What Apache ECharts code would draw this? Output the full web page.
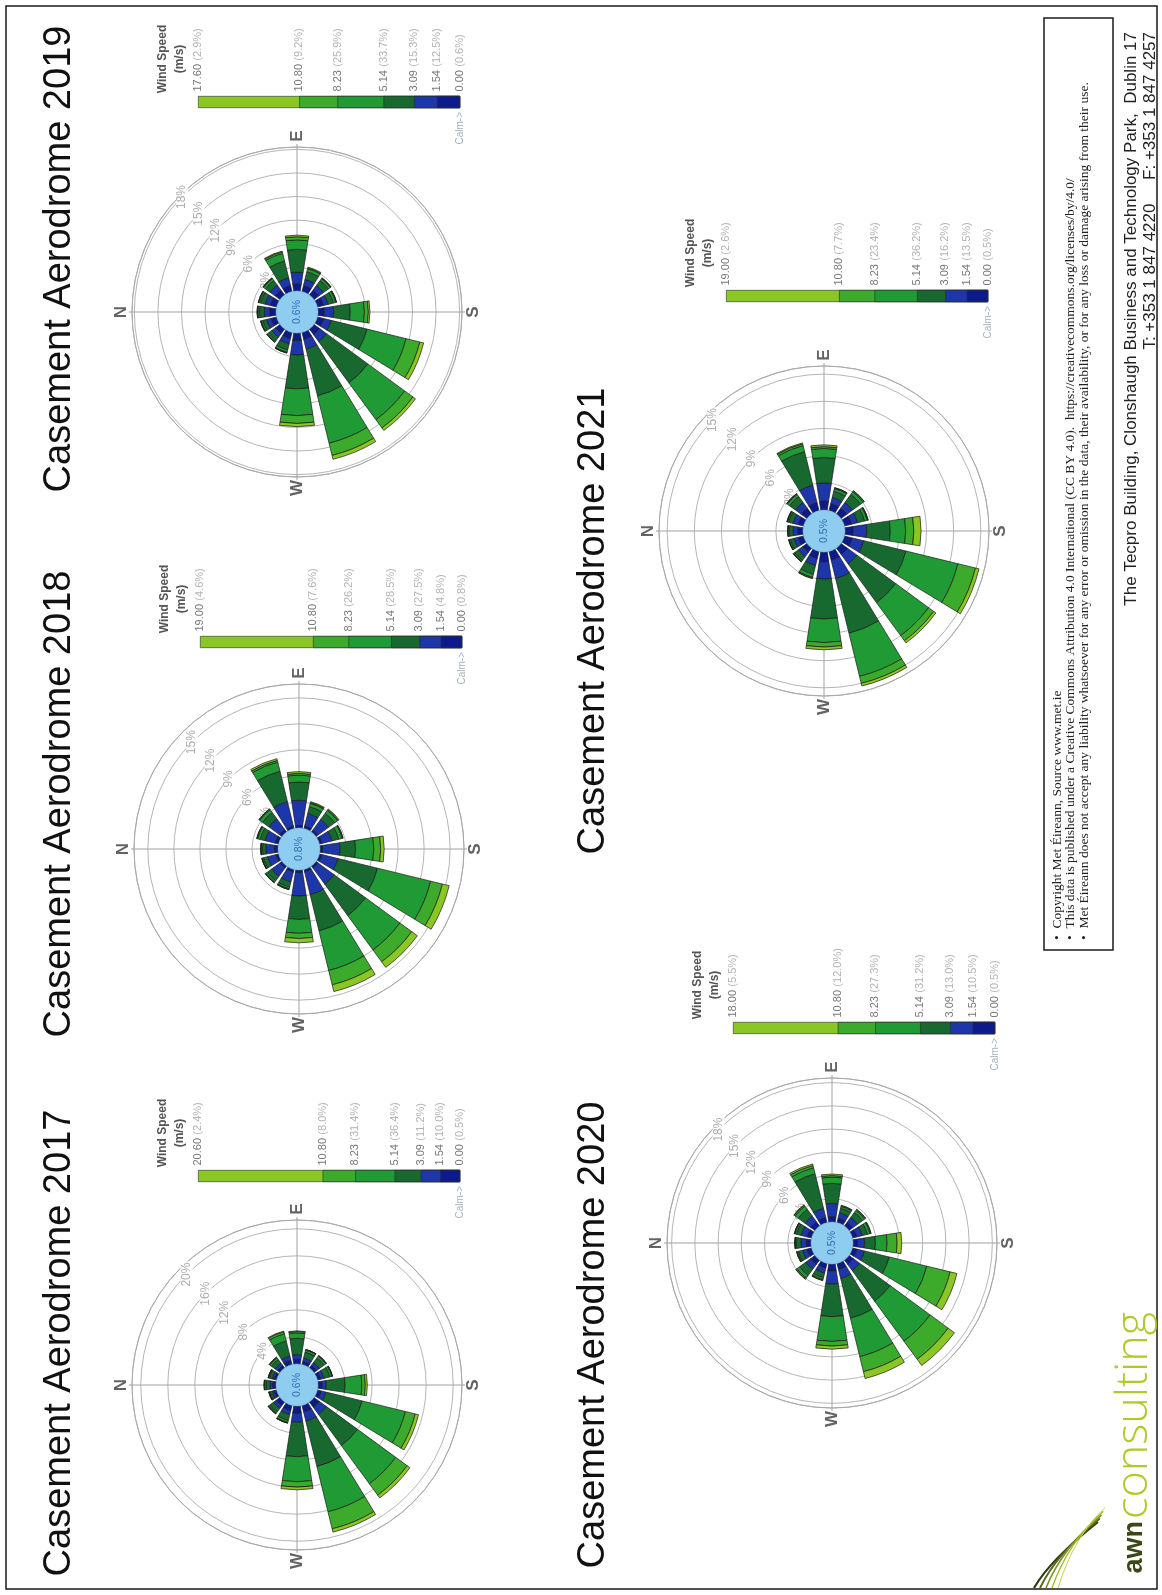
<!DOCTYPE html>
<html>
<head>
<meta charset="utf-8">
<title>Casement Aerodrome wind roses 2017-2021</title>
<script src="https://cdn.jsdelivr.net/npm/echarts@6/dist/echarts.min.js"></script>
<style>
  html, body { margin: 0; padding: 0; background: #ffffff; }
  #page { width: 1162px; height: 1595px; }
</style>
</head>
<body>
<div id="page"></div>
<script>
// ---- data ---------------------------------------------------------------
const DIRECTIONS = ['N', 'NNE', 'NE', 'ENE', 'E', 'ESE', 'SE', 'SSE',
                    'S', 'SSW', 'SW', 'WSW', 'W', 'WNW', 'NW', 'NNW'];
const SPEED_CLASSES = ['0.00 - 1.54', '1.54 - 3.09', '3.09 - 5.14',
                       '5.14 - 8.23', '8.23 - 10.80', '>= 10.80'];
const COMPASS = ['N', 'E', 'S', 'W'];

// frequency of occurrence (%) per direction, one array per speed class
const f2017_c1 = [0.5, 0.4, 0.5, 0.7, 0.7, 0.5, 0.5, 0.5, 0.6, 0.6, 1.0, 1.0, 1.1, 0.8, 0.7, 0.4];
const f2017_c2 = [0.4, 0.3, 0.4, 0.6, 0.7, 0.5, 0.5, 0.5, 0.6, 0.7, 1.3, 1.4, 1.3, 0.6, 0.5, 0.3];
const f2017_c3 = [0.6, 0.4, 0.7, 2.3, 2.4, 0.9, 0.9, 0.9, 2.8, 5.5, 5.7, 6.9, 5.1, 0.9, 0.7, 0.3];
const f2017_c4 = [0.2, 0.15, 0.3, 1.1, 0.8, 0.3, 0.3, 0.3, 2.5, 6.6, 7.0, 6.9, 3.7, 0.3, 0.2, 0.15];
const f2017_c5 = [0.05, 0.05, 0.1, 0.3, 0.2, 0.1, 0.1, 0.1, 0.5, 1.5, 2.1, 2.6, 0.8, 0.1, 0.1, 0.05];
const f2017_c6 = [0.05, 0, 0, 0.1, 0.1, 0, 0, 0, 0.3, 0.5, 0.5, 0.5, 0.4, 0, 0, 0];
const calm2017 = 0.6;
const rings2017 = [4, 8, 12, 16, 20];
const speeds2017 = [0.00, 1.54, 3.09, 5.14, 8.23, 10.80, 20.60];
const classPct2017 = [0.5, 10.0, 11.2, 36.4, 31.4, 8.0, 2.4];

const f2018_c1 = [0.4, 0.4, 0.4, 0.3, 0.3, 0.3, 0.3, 0.3, 0.3, 0.3, 0.3, 0.3, 0.3, 0.3, 0.3, 0.3];
const f2018_c2 = [1.0, 1.2, 1.5, 2.9, 2.9, 1.5, 1.5, 1.2, 2.0, 1.9, 2.3, 2.7, 2.7, 1.2, 1.2, 1.0];
const f2018_c3 = [0.4, 0.6, 0.9, 3.6, 2.1, 0.8, 0.9, 0.8, 1.8, 4.7, 4.5, 4.3, 2.7, 0.6, 0.6, 0.5];
const f2018_c4 = [0.15, 0.3, 0.4, 1.1, 0.8, 0.4, 0.4, 0.4, 2.1, 6.3, 4.9, 4.7, 1.6, 0.2, 0.2, 0.15];
const f2018_c5 = [0.05, 0.1, 0.1, 0.2, 0.2, 0.1, 0.1, 0.1, 0.8, 1.4, 1.7, 1.7, 0.6, 0.1, 0.1, 0.05];
const f2018_c6 = [0, 0, 0, 0.2, 0.2, 0.1, 0.1, 0, 0.4, 0.8, 0.8, 0.8, 0.5, 0, 0, 0];
const calm2018 = 0.8;
const rings2018 = [3, 6, 9, 12, 15];
const speeds2018 = [0.00, 1.54, 3.09, 5.14, 8.23, 10.80, 19.00];
const classPct2018 = [0.8, 4.8, 27.5, 28.5, 26.2, 7.6, 4.6];

const f2019_c1 = [0.8, 0.8, 0.8, 0.8, 0.9, 0.8, 0.8, 0.8, 0.8, 0.8, 0.9, 0.9, 1.0, 0.8, 0.7, 0.7];
const f2019_c2 = [0.7, 0.7, 0.8, 1.0, 1.5, 0.8, 0.7, 0.6, 1.2, 1.0, 1.1, 1.3, 1.8, 0.7, 0.6, 0.6];
const f2019_c3 = [0.6, 0.6, 0.7, 2.2, 2.9, 1.0, 0.8, 0.7, 2.1, 4.7, 6.5, 6.1, 4.3, 0.8, 0.5, 0.5];
const f2019_c4 = [0.2, 0.2, 0.3, 1.0, 1.2, 0.4, 0.3, 0.3, 1.8, 5.1, 5.8, 6.2, 3.4, 0.3, 0.2, 0.2];
const f2019_c5 = [0.1, 0.1, 0.1, 0.2, 0.4, 0.1, 0.1, 0.1, 0.5, 1.8, 1.3, 1.6, 1.0, 0.1, 0.1, 0.1];
const f2019_c6 = [0, 0, 0, 0.1, 0.2, 0.1, 0, 0, 0.2, 0.5, 0.4, 0.5, 0.4, 0, 0, 0];
const calm2019 = 0.6;
const rings2019 = [3, 6, 9, 12, 15, 18];
const speeds2019 = [0.00, 1.54, 3.09, 5.14, 8.23, 10.80, 17.60];
const classPct2019 = [0.6, 12.5, 15.3, 33.7, 25.9, 9.2, 2.9];

const f2020_c1 = [0.6, 0.6, 0.7, 0.7, 0.7, 0.6, 0.6, 0.6, 0.6, 0.6, 0.7, 0.8, 0.9, 0.6, 0.7, 0.6];
const f2020_c2 = [0.7, 0.8, 0.9, 1.2, 1.7, 0.7, 0.8, 0.7, 0.9, 1.0, 1.0, 1.2, 1.7, 0.7, 0.8, 0.6];
const f2020_c3 = [0.6, 0.6, 1.1, 4.6, 2.6, 0.6, 0.8, 0.7, 1.4, 3.3, 4.9, 5.3, 4.2, 0.6, 1.0, 0.55];
const f2020_c4 = [0.15, 0.2, 0.5, 0.8, 0.8, 0.25, 0.3, 0.35, 1.5, 5.0, 6.4, 5.1, 3.2, 0.25, 0.4, 0.15];
const f2020_c5 = [0.05, 0.1, 0.15, 0.3, 0.2, 0.1, 0.15, 0.1, 1.3, 3.1, 2.9, 2.0, 0.6, 0.1, 0.15, 0.1];
const f2020_c6 = [0, 0, 0.05, 0.2, 0.2, 0.05, 0.05, 0.05, 0.6, 0.9, 1.0, 0.9, 0.4, 0.05, 0.05, 0];
const calm2020 = 0.5;
const rings2020 = [3, 6, 9, 12, 15, 18];
const speeds2020 = [0.00, 1.54, 3.09, 5.14, 8.23, 10.80, 18.00];
const classPct2020 = [0.5, 10.5, 13.0, 31.2, 27.3, 12.0, 5.5];

const f2021_c1 = [0.6, 0.6, 0.8, 0.9, 1.0, 0.8, 0.8, 0.8, 0.9, 0.9, 0.9, 1.0, 1.1, 0.8, 0.6, 0.6];
const f2021_c2 = [0.5, 0.6, 0.8, 2.0, 2.0, 0.7, 0.8, 0.7, 1.5, 1.3, 1.3, 2.1, 1.9, 0.8, 0.6, 0.5];
const f2021_c3 = [0.4, 0.5, 0.8, 3.8, 2.8, 0.7, 1.1, 0.8, 2.6, 4.8, 5.3, 6.2, 4.4, 1.0, 0.5, 0.4];
const f2021_c4 = [0.15, 0.15, 0.3, 0.7, 1.0, 0.3, 0.35, 0.3, 1.7, 5.9, 4.5, 4.9, 2.6, 0.35, 0.15, 0.15];
const f2021_c5 = [0.05, 0.05, 0.1, 0.2, 0.2, 0.1, 0.1, 0.1, 0.9, 2.0, 0.7, 0.8, 0.5, 0.1, 0.05, 0.05];
const f2021_c6 = [0, 0, 0, 0.1, 0.2, 0, 0.05, 0, 0.8, 0.4, 0.3, 0.3, 0.3, 0.05, 0, 0];
const calm2021 = 0.5;
const rings2021 = [3, 6, 9, 12, 15];
const speeds2021 = [0.00, 1.54, 3.09, 5.14, 8.23, 10.80, 19.00];
const classPct2021 = [0.5, 13.5, 16.2, 36.2, 23.4, 7.7, 2.6];

const NOTES = [
  '\u2022  Copyright Met \u00c9ireann, Source www.met.ie',
  '\u2022  This data is published under a Creative Commons Attribution 4.0 International (CC BY 4.0).  https://creativecommons.org/licenses/by/4.0/',
  '\u2022  Met \u00c9ireann does not accept any liability whatsoever for any error or omission in the data, their availability, or for any loss or damage arising from their use.'
];
const ADDRESS = 'The Tecpro Building, Clonshaugh Business and Technology Park,  Dublin 17';
const PHONE = 'T: +353 1 847 4220     F: +353 1 847 4257';

// ---- styling / layout -----------------------------------------------------
const CLASS_COLORS = ['#0c1a8c', '#1d36aa', '#17692f', '#1f9a34', '#3cab2c', '#8ac724'];
const SANS = '"Liberation Sans", Arial, Helvetica, sans-serif';
const SERIF = '"Liberation Serif", "Times New Roman", serif';
const LEGEND_LEN = 262;

// the sheet is landscape, printed turned a quarter turn; every rose keeps N to the left
const ROSES = [
  { title: 'Casement Aerodrome 2017', freq: [f2017_c1, f2017_c2, f2017_c3, f2017_c4, f2017_c5, f2017_c6],
    calm: calm2017, rings: rings2017, speeds: speeds2017, pct: classPct2017,
    cx: 297, cy: 1385, maxPct: 21.3, step: 4, titleX: 60, titleY: 1343, legLeft: 198, legTop: 1170 },
  { title: 'Casement Aerodrome 2018', freq: [f2018_c1, f2018_c2, f2018_c3, f2018_c4, f2018_c5, f2018_c6],
    calm: calm2018, rings: rings2018, speeds: speeds2018, pct: classPct2018,
    cx: 299, cy: 849, maxPct: 16.6, step: 3, titleX: 60, titleY: 804, legLeft: 200, legTop: 636 },
  { title: 'Casement Aerodrome 2019', freq: [f2019_c1, f2019_c2, f2019_c3, f2019_c4, f2019_c5, f2019_c6],
    calm: calm2019, rings: rings2019, speeds: speeds2019, pct: classPct2019,
    cx: 297, cy: 312, maxPct: 18.3, step: 3, titleX: 60, titleY: 259, legLeft: 198, legTop: 96 },
  { title: 'Casement Aerodrome 2020', freq: [f2020_c1, f2020_c2, f2020_c3, f2020_c4, f2020_c5, f2020_c6],
    calm: calm2020, rings: rings2020, speeds: speeds2020, pct: classPct2020,
    cx: 832, cy: 1243, maxPct: 18.6, step: 3, titleX: 594, titleY: 1335, legLeft: 733, legTop: 1022 },
  { title: 'Casement Aerodrome 2021', freq: [f2021_c1, f2021_c2, f2021_c3, f2021_c4, f2021_c5, f2021_c6],
    calm: calm2021, rings: rings2021, speeds: speeds2021, pct: classPct2021,
    cx: 824, cy: 531, maxPct: 15.9, step: 3, titleX: 594, titleY: 621, legLeft: 726, legTop: 290 }
];

// text turned to read bottom-to-top
function upText(x, y, text, style) {
  return {
    type: 'text', x: x, y: y, rotation: Math.PI / 2, silent: true,
    style: Object.assign({
      text: text, fontFamily: SANS, fontSize: 12, fill: '#333',
      align: 'center', verticalAlign: 'middle',
      textAlign: 'center', textVerticalAlign: 'middle'
    }, style || {})
  };
}

const polar = [], angleAxis = [], radiusAxis = [];
const grid = [], xAxis = [], yAxis = [];
const series = [], graphic = [];

ROSES.forEach(function (r, i) {
  // crosshair through the centre (N-S / E-W)
  const deco = polar.length;
  polar.push({ center: [r.cx, r.cy], radius: [0, 168] });
  angleAxis.push({
    polarIndex: deco, type: 'value', min: 0, max: 360, interval: 90,
    startAngle: 180, clockwise: true,
    axisLine: { show: false }, axisTick: { show: false }, axisLabel: { show: false },
    splitLine: { show: true, lineStyle: { color: '#a2a2a2', width: 1 } }
  });
  radiusAxis.push({ polarIndex: deco, type: 'value', min: 0, max: 168, show: false });

  // the rose itself: bars start at the edge of the calm disc
  const rose = polar.length;
  polar.push({ center: [r.cx, r.cy], radius: [21, 165] });
  angleAxis.push({
    polarIndex: rose, type: 'category', data: DIRECTIONS,
    startAngle: 191.25, clockwise: true, boundaryGap: true,
    axisLine: { show: true, lineStyle: { color: '#a9a9a9', width: 1 } },
    axisTick: { show: false }, axisLabel: { show: false }, splitLine: { show: false }
  });
  radiusAxis.push({
    polarIndex: rose, type: 'value', min: 0, max: r.maxPct, interval: r.step,
    axisLine: { show: false }, axisTick: { show: false }, axisLabel: { show: false },
    splitLine: { show: true, lineStyle: { color: '#b6b6b6', width: 1 } }
  });

  r.freq.forEach(function (vals, k) {
    series.push({
      type: 'bar', coordinateSystem: 'polar', polarIndex: rose,
      stack: 'rose' + i, name: SPEED_CLASSES[k], data: vals,
      barCategoryGap: '22%', silent: true, z: 4, animation: false,
      itemStyle: { color: CLASS_COLORS[k], borderColor: '#1b1b1b', borderWidth: 0.7 }
    });
  });

  // percentage labels on the rings, along the NE spoke
  series.push({
    type: 'scatter', coordinateSystem: 'polar', polarIndex: rose, clip: false,
    symbolSize: 1, itemStyle: { color: 'rgba(0,0,0,0)' }, silent: true, z: 3, animation: false,
    data: r.rings.map(function (t) { return [t, 'NE']; }),
    label: {
      show: true, position: 'inside', rotate: 90,
      formatter: function (p) { return p.value[0] + '%'; },
      color: '#9a9a9a', fontSize: 12, fontFamily: SANS,
      backgroundColor: '#ffffff', padding: [0, 1]
    }
  });

  // compass letters
  series.push({
    type: 'scatter', coordinateSystem: 'polar', polarIndex: deco, clip: false,
    symbolSize: 1, itemStyle: { color: 'rgba(0,0,0,0)' }, silent: true, z: 3, animation: false,
    data: COMPASS.map(function (c, k) { return { name: c, value: [176, k * 90] }; }),
    label: {
      show: true, position: 'inside', rotate: 90, formatter: '{b}',
      color: '#3c3c3c', fontSize: 17, fontWeight: 'bold', fontFamily: SANS
    }
  });

  // calm disc in the middle
  series.push({
    type: 'pie', center: [r.cx, r.cy], radius: [0, 21], silent: true, z: 6, animation: false,
    data: [{ name: 'Calm', value: r.calm }],
    itemStyle: { color: '#8fcdf0', borderColor: '#6fb2de', borderWidth: 0.6 },
    label: {
      show: true, position: 'center', rotate: 90,
      formatter: function (p) { return p.value.toFixed(1) + '%'; },
      color: '#2f6fb4', fontSize: 10.5, fontFamily: SANS
    },
    labelLine: { show: false }
  });

  // wind-speed scale bar
  const g = grid.length;
  grid.push({ left: r.legLeft, top: r.legTop, width: LEGEND_LEN, height: 12 });
  xAxis.push({ gridIndex: g, type: 'value', min: 0, max: r.speeds[r.speeds.length - 1],
               inverse: true, show: false });
  yAxis.push({ gridIndex: g, type: 'category', data: ['ws'], show: false });
  // widest band first so the narrower ones are painted over it
  for (let k = CLASS_COLORS.length - 1; k >= 0; k--) {
    series.push({
      type: 'bar', xAxisIndex: g, yAxisIndex: g, data: [r.speeds[k + 1]],
      barWidth: 12, barGap: '-100%', silent: true, z: 2, animation: false,
      itemStyle: { color: CLASS_COLORS[k], borderColor: '#2a2a2a', borderWidth: 0.6 }
    });
  }
  series.push({
    type: 'scatter', xAxisIndex: g, yAxisIndex: g, clip: false,
    symbolSize: 1, itemStyle: { color: 'rgba(0,0,0,0)' }, silent: true, z: 3, animation: false,
    data: r.speeds.map(function (s, k) { return { value: [s, 'ws'], pct: r.pct[k] }; }),
    label: {
      show: true, position: 'top', distance: 10, rotate: 90,
      align: 'left', verticalAlign: 'middle',
      formatter: function (p) {
        return '{v|' + p.data.value[0].toFixed(2) + '} {p|(' + p.data.pct.toFixed(1) + '%)}';
      },
      rich: {
        v: { color: '#555555', fontSize: 11, fontFamily: SANS },
        p: { color: '#a0a0a0', fontSize: 11, fontFamily: SANS }
      }
    }
  });

  graphic.push(upText(r.titleX, r.titleY, r.title, { fontSize: 38, fill: '#111111' }));
  graphic.push(upText(r.legLeft - 35, r.legTop - 37, 'Wind Speed', { fontSize: 12, fontWeight: 'bold', fill: '#555555' }));
  graphic.push(upText(r.legLeft - 18, r.legTop - 37, '(m/s)', { fontSize: 12, fontWeight: 'bold', fill: '#555555' }));
  graphic.push(upText(r.legLeft + LEGEND_LEN, r.legTop + 16, 'Calm->',
    { fontSize: 10, fill: '#a3b0bf', align: 'right', textAlign: 'right' }));
});

// page frame
graphic.push({ type: 'rect', silent: true, shape: { x: 6, y: 6, width: 1151, height: 1583 },
               style: { fill: 'none', stroke: '#1a1a1a', lineWidth: 1.5 } });

// notes box
graphic.push({ type: 'rect', silent: true, shape: { x: 1044, y: 18, width: 69, height: 932 },
               style: { fill: 'none', stroke: '#1a1a1a', lineWidth: 1.5 } });
NOTES.forEach(function (line, k) {
  graphic.push(upText(1057 + k * 13.5, 940, line,
    { fontFamily: SERIF, fontSize: 13.5, fill: '#222222', align: 'left', textAlign: 'left' }));
});

// address footer, right-aligned to the top of the sheet
graphic.push(upText(1131, 32, ADDRESS, { fontSize: 17, fill: '#222222', align: 'right', textAlign: 'right' }));
graphic.push(upText(1150, 32, PHONE, { fontSize: 17, fill: '#222222', align: 'right', textAlign: 'right' }));

// company mark: bold "awn" below the split point, light "consulting" above it
const LOGO_X = 1135, LOGO_SPLIT = 1521;
graphic.push(upText(LOGO_X, LOGO_SPLIT, 'awn',
  { fontSize: 27, fontWeight: 'bold', fill: '#3b4716', align: 'right', textAlign: 'right' }));
graphic.push(upText(LOGO_X - 1, LOGO_SPLIT - 2, 'consulting',
  { fontFamily: '"Open Sans", Lato, sans-serif', fontSize: 45, fontWeight: 300, fill: '#b6c829',
    align: 'left', textAlign: 'left' }));
[['#2f3b10', 0], ['#55661c', 6], ['#7c9222', 12], ['#a3b92a', 18], ['#c4d63a', 24]].forEach(function (s) {
  const d = s[1];
  graphic.push({
    type: 'bezierCurve', silent: true,
    shape: { x1: 1034 + d, y1: 1588, cpx1: 1050 + d, cpy1: 1560 - d, x2: 1098 + d * 0.3, y2: 1522 - d * 0.6 },
    style: { stroke: s[0], lineWidth: 2.2 - d * 0.05, fill: 'none' }
  });
});

const chart = echarts.init(document.getElementById('page'), null, { renderer: 'canvas', width: 1162, height: 1595 });
chart.setOption({
  backgroundColor: '#ffffff',
  animation: false,
  polar: polar,
  angleAxis: angleAxis,
  radiusAxis: radiusAxis,
  grid: grid,
  xAxis: xAxis,
  yAxis: yAxis,
  series: series,
  graphic: graphic
});
</script>
</body>
</html>
